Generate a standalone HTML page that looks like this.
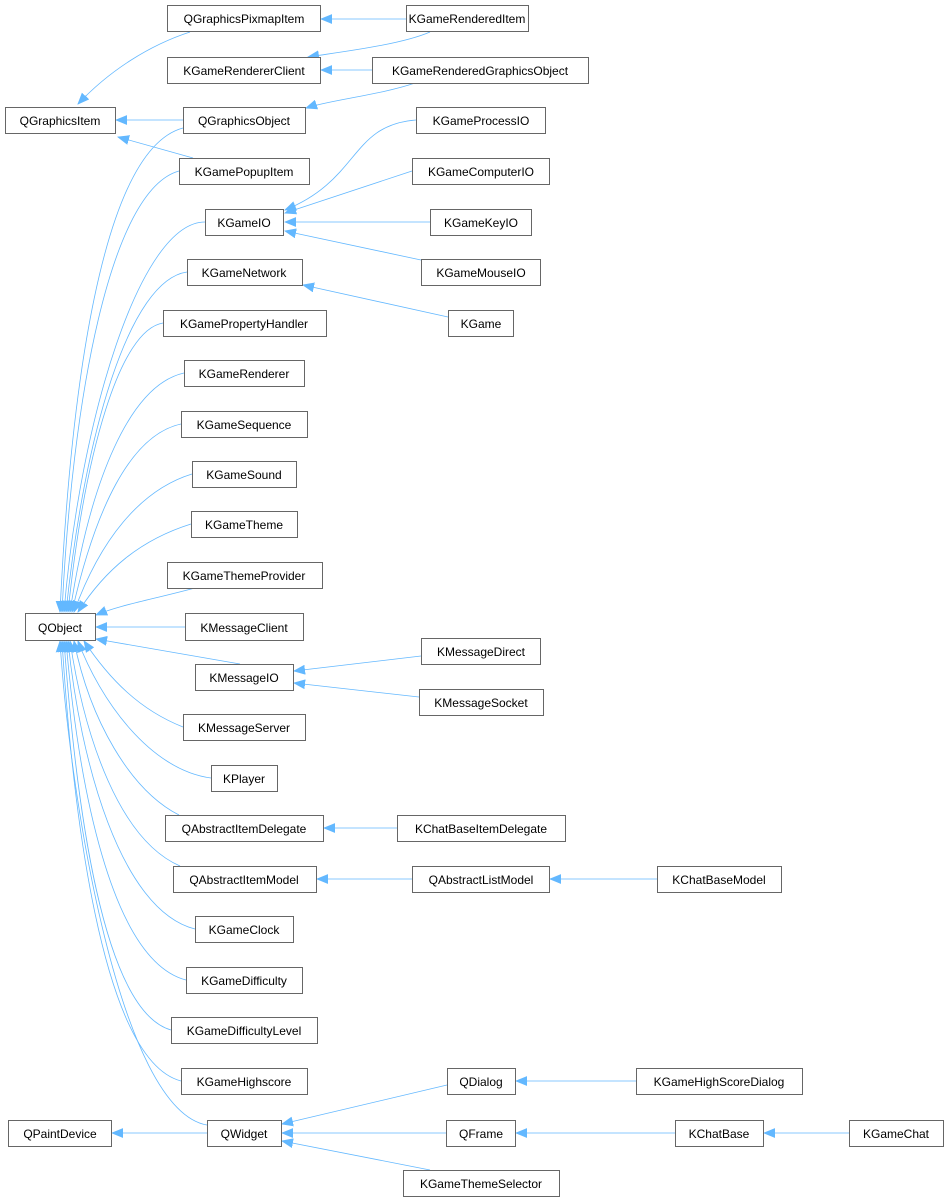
<!DOCTYPE html>
<html><head><meta charset="utf-8"><style>
html,body{margin:0;padding:0;background:#fff}
svg{display:block}
text{font-family:"Liberation Sans",sans-serif;font-size:12px;fill:#000;text-anchor:middle}
rect{fill:#fff;stroke:#666;stroke-width:1}
path{fill:none;stroke:#63b8ff;stroke-width:0.8}
</style></head><body>
<svg width="948" height="1203" viewBox="0 0 948 1203" xmlns="http://www.w3.org/2000/svg">
<defs><marker id="a" markerUnits="userSpaceOnUse" markerWidth="12" markerHeight="10" refX="11" refY="5" orient="auto"><path d="M0,0.5 L11,5 L0,9.5 z" style="fill:#63b8ff;stroke:#63b8ff"/></marker></defs>
<g marker-end="url(#a)">
<path d="M406,19 L321,19"/>
<path d="M430,32 C400,45 340,52 308,57"/>
<path d="M372,70 L321,70"/>
<path d="M415,83 C380,95 330,100 306,108"/>
<path d="M190,32 C150,45 110,70 78,104"/>
<path d="M183,120 L116,120"/>
<path d="M193,158 L118,137"/>
<path d="M416,120 C350,125 360,180 285,210"/>
<path d="M412,171 L285,213"/>
<path d="M430,222 L285,222"/>
<path d="M421,260 L285,231"/>
<path d="M448,317 L303,285"/>
<path d="M421,656 L294,671"/>
<path d="M419,697 L294,683"/>
<path d="M397,828 L324,828"/>
<path d="M412,879 L317,879"/>
<path d="M657,879 L550,879"/>
<path d="M636,1081 L516,1081"/>
<path d="M447,1085 L282,1124"/>
<path d="M446,1133 L282,1133"/>
<path d="M430,1170 L282,1141"/>
<path d="M675,1133 L516,1133"/>
<path d="M849,1133 L764,1133"/>
<path d="M207,1133 L112,1133"/>
<path d="M183,128 C100,150 70,400 60,612"/>
<path d="M179,171 C110,190 72,400 62,612"/>
<path d="M205,222 C140,222 80,420 64,612"/>
<path d="M187,272 C130,280 85,430 66,612"/>
<path d="M163,323 C120,330 85,450 68,612"/>
<path d="M184,373 C130,385 90,480 70,612"/>
<path d="M181,424 C130,435 95,510 72,612"/>
<path d="M192,474 C140,490 100,540 74,612"/>
<path d="M191,524 C140,540 105,570 78,612"/>
<path d="M195,588 C150,600 120,605 96,615"/>
<path d="M185,627 L96,627"/>
<path d="M240,664 L96,639"/>
<path d="M183,727 C140,710 110,680 84,641"/>
<path d="M211,778 C150,770 100,700 78,641"/>
<path d="M179,815 C130,790 90,720 74,641"/>
<path d="M180,866 C120,840 85,740 70,641"/>
<path d="M195,929 C120,910 80,760 68,641"/>
<path d="M186,980 C110,960 78,780 66,641"/>
<path d="M171,1030 C100,1010 75,790 64,641"/>
<path d="M181,1081 C100,1060 72,800 62,641"/>
<path d="M207,1125 C120,1110 70,800 60,641"/>
</g>
<g>
<rect x="167.5" y="5.5" width="153" height="26"/><text x="244" y="23">QGraphicsPixmapItem</text>
<rect x="406.5" y="5.5" width="122" height="26"/><text x="467" y="23">KGameRenderedItem</text>
<rect x="167.5" y="57.5" width="153" height="26"/><text x="244" y="75">KGameRendererClient</text>
<rect x="372.5" y="57.5" width="216" height="26"/><text x="480" y="75">KGameRenderedGraphicsObject</text>
<rect x="5.5" y="107.5" width="110" height="26"/><text x="60" y="125">QGraphicsItem</text>
<rect x="183.5" y="107.5" width="122" height="26"/><text x="244" y="125">QGraphicsObject</text>
<rect x="416.5" y="107.5" width="129" height="26"/><text x="481" y="125">KGameProcessIO</text>
<rect x="179.5" y="158.5" width="130" height="26"/><text x="244" y="176">KGamePopupItem</text>
<rect x="412.5" y="158.5" width="137" height="26"/><text x="481" y="176">KGameComputerIO</text>
<rect x="205.5" y="209.5" width="78" height="26"/><text x="244" y="227">KGameIO</text>
<rect x="430.5" y="209.5" width="101" height="26"/><text x="481" y="227">KGameKeyIO</text>
<rect x="187.5" y="259.5" width="115" height="26"/><text x="244" y="277">KGameNetwork</text>
<rect x="421.5" y="259.5" width="119" height="26"/><text x="481" y="277">KGameMouseIO</text>
<rect x="163.5" y="310.5" width="163" height="26"/><text x="244" y="328">KGamePropertyHandler</text>
<rect x="448.5" y="310.5" width="65" height="26"/><text x="481" y="328">KGame</text>
<rect x="184.5" y="360.5" width="120" height="26"/><text x="244" y="378">KGameRenderer</text>
<rect x="181.5" y="411.5" width="126" height="26"/><text x="244" y="429">KGameSequence</text>
<rect x="192.5" y="461.5" width="104" height="26"/><text x="244" y="479">KGameSound</text>
<rect x="191.5" y="511.5" width="106" height="26"/><text x="244" y="529">KGameTheme</text>
<rect x="167.5" y="562.5" width="155" height="26"/><text x="244" y="580">KGameThemeProvider</text>
<rect x="25.5" y="613.5" width="70" height="27"/><text x="60" y="632">QObject</text>
<rect x="185.5" y="613.5" width="118" height="27"/><text x="244" y="632">KMessageClient</text>
<rect x="421.5" y="638.5" width="119" height="26"/><text x="481" y="656">KMessageDirect</text>
<rect x="195.5" y="664.5" width="98" height="26"/><text x="244" y="682">KMessageIO</text>
<rect x="419.5" y="689.5" width="124" height="26"/><text x="481" y="707">KMessageSocket</text>
<rect x="183.5" y="714.5" width="122" height="26"/><text x="244" y="732">KMessageServer</text>
<rect x="211.5" y="765.5" width="66" height="26"/><text x="244" y="783">KPlayer</text>
<rect x="165.5" y="815.5" width="158" height="26"/><text x="244" y="833">QAbstractItemDelegate</text>
<rect x="397.5" y="815.5" width="168" height="26"/><text x="481" y="833">KChatBaseItemDelegate</text>
<rect x="173.5" y="866.5" width="143" height="26"/><text x="244" y="884">QAbstractItemModel</text>
<rect x="412.5" y="866.5" width="137" height="26"/><text x="481" y="884">QAbstractListModel</text>
<rect x="657.5" y="866.5" width="124" height="26"/><text x="719" y="884">KChatBaseModel</text>
<rect x="195.5" y="916.5" width="98" height="26"/><text x="244" y="934">KGameClock</text>
<rect x="186.5" y="967.5" width="116" height="26"/><text x="244" y="985">KGameDifficulty</text>
<rect x="171.5" y="1017.5" width="146" height="26"/><text x="244" y="1035">KGameDifficultyLevel</text>
<rect x="181.5" y="1068.5" width="126" height="26"/><text x="244" y="1086">KGameHighscore</text>
<rect x="447.5" y="1068.5" width="68" height="26"/><text x="481" y="1086">QDialog</text>
<rect x="636.5" y="1068.5" width="166" height="26"/><text x="719" y="1086">KGameHighScoreDialog</text>
<rect x="8.5" y="1120.5" width="103" height="26"/><text x="60" y="1138">QPaintDevice</text>
<rect x="207.5" y="1120.5" width="74" height="26"/><text x="244" y="1138">QWidget</text>
<rect x="446.5" y="1120.5" width="69" height="26"/><text x="481" y="1138">QFrame</text>
<rect x="675.5" y="1120.5" width="88" height="26"/><text x="719" y="1138">KChatBase</text>
<rect x="849.5" y="1120.5" width="94" height="26"/><text x="896" y="1138">KGameChat</text>
<rect x="403.5" y="1170.5" width="156" height="26"/><text x="481" y="1188">KGameThemeSelector</text>
</g>
</svg>
</body></html>
